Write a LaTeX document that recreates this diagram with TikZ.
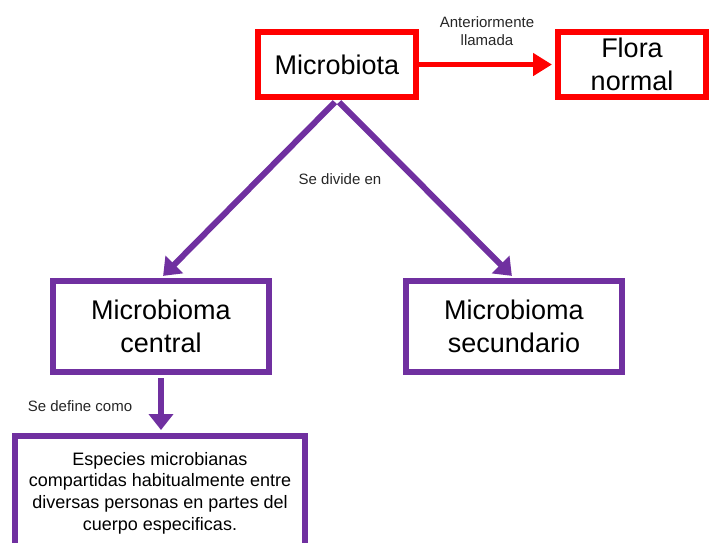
\documentclass[tikz,border=0pt]{standalone}
\usepackage{fontspec}
\setmainfont{Liberation Sans}
\usetikzlibrary{arrows.meta}
\definecolor{myred}{HTML}{FF0000}
\definecolor{mypurple}{HTML}{7030A0}
\begin{document}
\begin{tikzpicture}[x=1pt,y=-1pt,
  bigtxt/.style={font=\fontsize{27}{33}\selectfont, align=center},
  redbox/.style={draw=myred, line width=6pt, inner sep=0pt},
  purbox/.style={draw=mypurple, line width=6pt, inner sep=0pt},
  redarrow/.style={draw=myred, line width=5pt, -{Triangle[length=19pt,width=22pt]}},
  purarrow/.style={draw=mypurple, line width=6pt, -{Triangle[length=16pt,width=24pt]}},
  lbl/.style={font=\fontsize{15}{18}\selectfont, align=center, text=black!85}
]
\useasboundingbox (0,0) rectangle (709,542);
\node[redbox, bigtxt, minimum width=158pt, minimum height=65pt] (micro) at (337,64.5) {Microbiota};
\node[redbox, font=\fontsize{27}{33}\selectfont, minimum width=148pt, minimum height=65pt] (flora) at (632,64.5) {\raisebox{-2pt}{\parbox{140pt}{\centering Flora\\normal}}};
\node[purbox, bigtxt, minimum width=216pt, minimum height=91pt] (central) at (161,326.5) {Microbioma\\central};
\node[purbox, bigtxt, minimum width=216pt, minimum height=91pt] (secund) at (514,326.5) {Microbioma\\secundario};
\node[purbox, font=\fontsize{18}{21.7}\selectfont, align=center, minimum width=290pt, minimum height=114pt] (esp) at (160,493) {Especies microbianas\\compartidas habitualmente entre\\diversas personas en partes del\\cuerpo especificas.};

\draw[redarrow, shorten >=3pt] (micro.east) -- (flora.west);
\draw[purarrow, shorten <=3pt, shorten >=3pt] (micro.south) -- (central.north);
\draw[purarrow, shorten <=3pt, shorten >=3pt] (micro.south) -- (secund.north);
\draw[purarrow, shorten <=3pt, shorten >=3pt] (central.south) -- (central.south |- esp.north);

\node[lbl] (l1) at (487,31) {Anteriormente\\llamada};
\node[lbl] (l2) at (340,179) {Se divide en};
\node[lbl] (l3) at (80,406) {Se define como};
\end{tikzpicture}
\end{document}
